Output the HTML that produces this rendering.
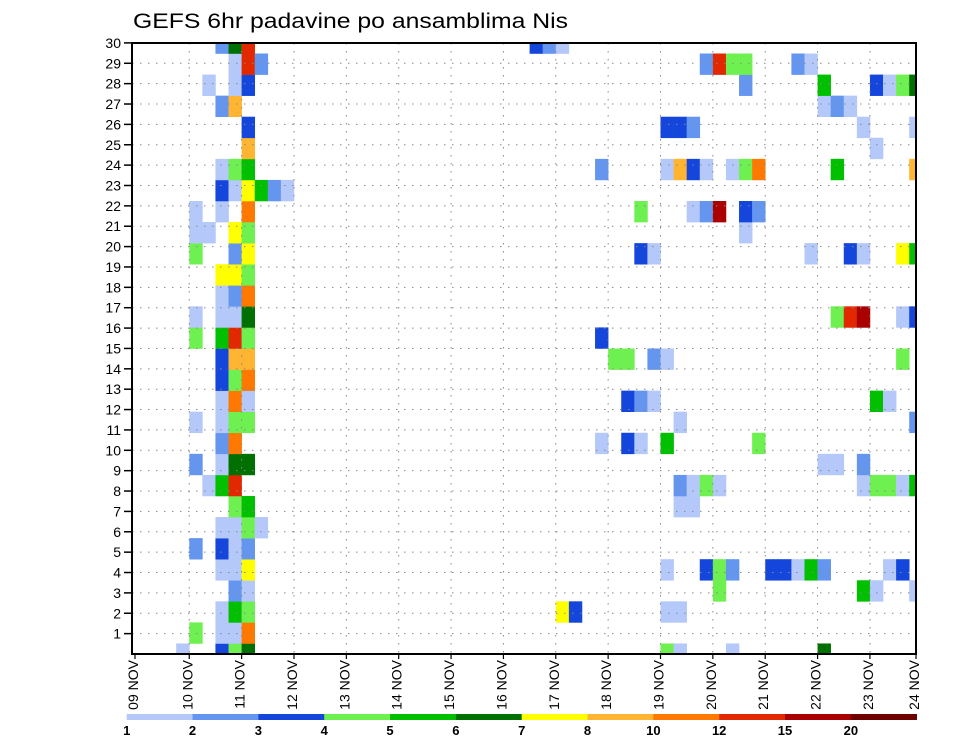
<!DOCTYPE html>
<html><head><meta charset="utf-8"><style>
html,body{margin:0;padding:0;background:#fff;}
svg{display:block;font-family:"Liberation Sans",sans-serif;}
</style></head><body>
<svg id="chart" width="960" height="742" viewBox="0 0 960 742" xmlns="http://www.w3.org/2000/svg">
<text x="133" y="28" font-size="21" textLength="435" lengthAdjust="spacingAndGlyphs" fill="#000">GEFS 6hr padavine po ansamblima Nis</text>
<defs><clipPath id="pc"><rect x="132" y="43" width="784" height="611"/></clipPath></defs>
<g id="cells" clip-path="url(#pc)"></g>
<g id="grid"></g>
<rect x="132" y="43" width="784" height="611" fill="none" stroke="#000" stroke-width="2"/>
<g id="yaxis"></g>
<g id="xaxis"></g>
<g id="legend"></g>
</svg>
<script>
// time column index (6-hourly from 09 NOV 00Z) per ensemble row 0..29
const rowCols = [
 [3,6,7,8,40,41,45,52],
 [4,6,7,8],
 [6,7,8,32,33,40,41],
 [7,8,44,55,56,59],
 [6,7,8,40,43,44,45,48,49,50,51,52,57,58],
 [4,6,7,8],
 [6,7,8,9],
 [7,8,41,42],
 [5,6,7,41,42,43,44,55,56,57,58,59],
 [4,6,7,8,52,53,55],
 [6,7,35,37,38,40,47],
 [4,6,7,8,41,59],
 [6,7,8,37,38,39,56,57],
 [6,7,8],
 [6,7,8,36,37,39,40,58],
 [4,6,7,8,35],
 [4,6,7,8,53,54,55,58,59],
 [6,7,8],
 [6,7,8],
 [4,7,8,38,39,51,54,55,58,59],
 [4,5,7,8,46],
 [4,6,8,38,42,43,44,46,47],
 [6,7,8,9,10,11],
 [6,7,8,35,40,41,42,43,45,46,47,53,59],
 [8,56],
 [8,40,41,42,55,59],
 [6,7,52,53,54],
 [5,7,8,46,52,56,57,58,59],
 [7,8,9,43,44,45,46,50,51],
 [6,7,8,30,31,32]
];
// colour class per cell (1 = 1-2 mm ... 12 = >20 mm)
const rowLevels = [
 [1,3,4,6,4,1,1,6],
 [4,1,1,9],
 [1,5,4,7,3,1,1],
 [2,1,4,5,1,1],
 [1,1,7,1,3,4,2,3,3,1,5,2,1,3],
 [2,3,1,2],
 [1,1,4,1],
 [4,5,1,1],
 [1,5,10,2,1,4,1,1,4,4,1,5],
 [2,1,6,6,1,1,2],
 [2,9,1,3,1,5,4],
 [1,1,4,4,1,2],
 [1,9,1,3,2,1,5,1],
 [3,4,9],
 [3,8,8,4,4,2,1,4],
 [4,5,10,4,3],
 [1,1,1,6,4,10,11,1,3],
 [1,2,9],
 [7,7,4],
 [4,2,7,3,1,1,3,1,7,5],
 [1,1,7,4,1],
 [1,1,9,4,1,2,11,3,2],
 [3,1,7,5,2,1],
 [1,4,5,2,1,8,3,1,1,4,9,5,8],
 [8,1],
 [3,3,3,2,1,1],
 [2,8,1,2,1],
 [1,1,3,2,5,3,1,4,6],
 [1,10,2,2,10,4,4,2,1],
 [2,6,10,3,2,1]
];
const levelColors = ["#ffffff","#b4c8fa","#6496f0","#1446dc","#6ef050","#00c000","#007000","#ffff00","#ffb432","#ff7800","#e12800","#aa0000","#6e0000"];
const legendLabels = ["1","2","3","4","5","6","7","8","10","12","15","20"];
const dayLabels = ["09","10","11","12","13","14","15","16","17","18","19","20","21","22","23","24"];
const yTickLabels = [1,2,3,4,5,6,7,8,9,10,11,12,13,14,15,16,17,18,19,20,21,22,23,24,25,26,27,28,29,30];

const NS="http://www.w3.org/2000/svg";
const X0=136.9, CW=13.09, PL=132, PR=916, PT=43, PB=654, RH=21.07, YU=20.37;
function xCol(c){return X0+CW*c;}
function yRow(j){return PB-RH*j;}
function yLab(n){return PB-YU*n;}
function mk(tag,attrs,parent){const e=document.createElementNS(NS,tag);for(const k in attrs)e.setAttribute(k,attrs[k]);parent.appendChild(e);return e;}

const cg=document.getElementById('cells');
rowCols.forEach((cols,j)=>{
  cols.forEach((c,i)=>{
    const r=mk('rect',{x:xCol(c),y:yRow(j)-RH/2,width:CW+0.3,height:RH+0.3,fill:levelColors[rowLevels[j][i]]},cg);
    
    
  });
});

const gg=document.getElementById('grid');
for(let n=1;n<30;n++){
  const l=mk('line',{x1:PL,x2:PR,y1:yLab(n),y2:yLab(n),stroke:"#888","stroke-width":1,"stroke-dasharray":"1.5,6.5"},gg);
  
  
}
for(let d=1;d<15;d++){
  const x=xCol(4*d);
  const l=mk('line',{x1:x,x2:x,y1:PT,y2:PB,stroke:"#888","stroke-width":1,"stroke-dasharray":"1.5,6.5"},gg);
  
  
}

const ya=document.getElementById('yaxis');
yTickLabels.forEach(n=>{
  const y=yLab(n);
  const t=mk('line',{x1:124,x2:PL,y1:y,y2:y,stroke:"#000","stroke-width":1.5},ya);
  
  
  const tx=mk('text',{x:121,y:y+5,"font-size":14,"text-anchor":"end",fill:"#000"},ya);
  tx.textContent=String(n);
  
  
});

const xa=document.getElementById('xaxis');
dayLabels.forEach((d,i)=>{
  let x=Math.min(xCol(4*i),PR);
  if(i===0) x=135;
  const t=mk('line',{x1:x,x2:x,y1:PB,y2:PB+5,stroke:"#000","stroke-width":1.2},xa);
  
  
  const tx=mk('text',{x:0,y:0,"font-size":14,"text-anchor":"end",fill:"#000",transform:"translate("+(x+3)+",660) rotate(-90)"},xa);
  tx.textContent=d+" NOV";
  
  
});

const lg=document.getElementById('legend');
const LX0=126.7, LX1=916.7, LW=(LX1-LX0)/12;
legendLabels.forEach((lab,i)=>{
  const r=mk('rect',{x:LX0+LW*i,y:714,width:LW+0.3,height:6,fill:levelColors[i+1]},lg);
  
  
  const t=mk('text',{x:LX0+LW*i,y:735,"font-size":13,"font-weight":"bold","text-anchor":"middle",fill:"#000"},lg);
  t.textContent=lab;
  
  
});
</script>
</body></html>
